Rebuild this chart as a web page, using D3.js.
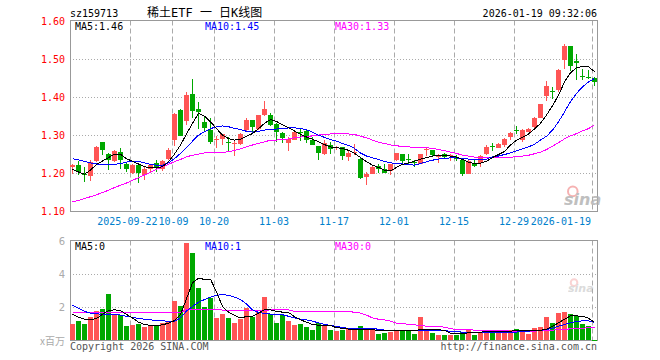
<!DOCTYPE html>
<html>
<head>
<meta charset="utf-8">
<script src="https://cdn.jsdelivr.net/npm/d3@7"></script>
<style>
  body { margin: 0; background: #fff; }
  svg { display: block; }
  text { font-family: 'DejaVu Sans Mono', 'Noto Sans CJK SC', monospace; font-size: 10px; }
</style>
</head>
<body>
<div id="chart"></div>
<script>
const dates = [
  '2025-09-08','2025-09-09','2025-09-10','2025-09-11','2025-09-12','2025-09-15','2025-09-16','2025-09-17','2025-09-18','2025-09-19',
  '2025-09-22','2025-09-23','2025-09-24','2025-09-25','2025-09-26','2025-09-29','2025-09-30','2025-10-09','2025-10-10','2025-10-13',
  '2025-10-14','2025-10-15','2025-10-16','2025-10-17','2025-10-20','2025-10-21','2025-10-22','2025-10-23','2025-10-24','2025-10-27',
  '2025-10-28','2025-10-29','2025-10-30','2025-10-31','2025-11-03','2025-11-04','2025-11-05','2025-11-06','2025-11-07','2025-11-10',
  '2025-11-11','2025-11-12','2025-11-13','2025-11-14','2025-11-17','2025-11-18','2025-11-19','2025-11-20','2025-11-21','2025-11-24',
  '2025-11-25','2025-11-26','2025-11-27','2025-11-28','2025-12-01','2025-12-02','2025-12-03','2025-12-04','2025-12-05','2025-12-08',
  '2025-12-09','2025-12-10','2025-12-11','2025-12-12','2025-12-15','2025-12-16','2025-12-17','2025-12-18','2025-12-19','2025-12-22',
  '2025-12-23','2025-12-24','2025-12-25','2025-12-26','2025-12-29','2025-12-30','2025-12-31','2026-01-05','2026-01-06','2026-01-07',
  '2026-01-08','2026-01-09','2026-01-12','2026-01-13','2026-01-14','2026-01-15','2026-01-16','2026-01-19'
];

const open = [
  1.218,1.222,1.199,1.194,1.233,1.282,1.251,1.233,1.256,1.226,
  1.202,1.222,1.196,1.211,1.228,1.211,1.237,1.288,1.367,1.339,
  1.409,1.369,1.335,1.314,1.289,1.291,1.284,1.277,1.277,1.314,
  1.342,1.316,1.353,1.353,1.330,1.307,1.279,1.288,1.308,1.312,
  1.289,1.272,1.251,1.275,1.268,1.270,1.244,1.256,1.237,1.190,
  1.200,1.219,1.211,1.207,1.235,1.251,1.237,1.229,1.226,1.261,
  1.261,1.245,1.251,1.247,1.242,1.235,1.200,1.228,1.228,1.251,
  1.273,1.268,1.274,1.295,1.315,1.288,1.310,1.323,1.347,1.404,
  1.416,1.419,1.498,1.536,1.496,1.457,1.455,1.451
];
const high = [
  1.224,1.232,1.217,1.235,1.272,1.282,1.253,1.263,1.267,1.231,
  1.226,1.226,1.217,1.226,1.235,1.235,1.268,1.358,1.370,1.414,
  1.450,1.389,1.351,1.347,1.300,1.303,1.295,1.288,1.306,1.347,
  1.342,1.353,1.392,1.359,1.332,1.309,1.296,1.314,1.318,1.314,
  1.296,1.272,1.288,1.283,1.272,1.270,1.260,1.278,1.240,1.204,
  1.222,1.225,1.226,1.226,1.254,1.251,1.251,1.235,1.251,1.270,
  1.261,1.251,1.254,1.252,1.248,1.237,1.237,1.235,1.248,1.274,
  1.281,1.279,1.294,1.310,1.325,1.318,1.321,1.349,1.384,1.443,
  1.428,1.474,1.540,1.536,1.514,1.474,1.472,1.453
];
const low = [
  1.198,1.196,1.178,1.181,1.231,1.248,1.209,1.231,1.213,1.204,
  1.198,1.175,1.182,1.204,1.204,1.207,1.235,1.273,1.298,1.327,
  1.347,1.318,1.311,1.277,1.266,1.275,1.260,1.246,1.275,1.310,
  1.310,1.314,1.351,1.325,1.282,1.279,1.260,1.288,1.286,1.279,
  1.275,1.235,1.249,1.252,1.263,1.235,1.233,1.250,1.186,1.170,
  1.198,1.202,1.202,1.196,1.233,1.225,1.226,1.216,1.225,1.246,
  1.246,1.228,1.239,1.233,1.234,1.193,1.200,1.217,1.217,1.248,
  1.260,1.268,1.270,1.288,1.304,1.283,1.309,1.321,1.345,1.392,
  1.395,1.415,1.474,1.470,1.446,1.446,1.448,1.431
];
const close = [
  1.222,1.205,1.197,1.231,1.269,1.261,1.235,1.260,1.235,1.212,
  1.222,1.202,1.211,1.222,1.218,1.232,1.261,1.356,1.298,1.406,
  1.365,1.362,1.319,1.283,1.290,1.303,1.282,1.279,1.305,1.340,
  1.323,1.353,1.369,1.327,1.310,1.294,1.292,1.310,1.307,1.289,
  1.275,1.254,1.279,1.265,1.269,1.246,1.254,1.257,1.188,1.200,
  1.216,1.211,1.202,1.225,1.253,1.233,1.236,1.228,1.251,1.264,
  1.248,1.246,1.244,1.248,1.241,1.200,1.233,1.219,1.246,1.270,
  1.272,1.277,1.290,1.307,1.314,1.314,1.318,1.346,1.382,1.430,
  1.415,1.472,1.536,1.482,1.492,1.456,1.453,1.440
];

// price moving averages as drawn
const ma5 = [
  1.211,1.204,1.198,1.209,1.224,1.233,1.242,1.251,1.251,1.239,
  1.232,1.225,1.218,1.215,1.215,1.218,1.231,1.251,1.275,1.304,
  1.332,1.358,1.351,1.336,1.318,1.301,1.292,1.288,1.290,1.298,
  1.305,1.318,1.332,1.342,1.337,1.328,1.320,1.312,1.303,1.296,
  1.290,1.284,1.276,1.270,1.268,1.266,1.261,1.253,1.242,1.231,
  1.222,1.216,1.209,1.207,1.216,1.224,1.228,1.232,1.238,1.242,
  1.246,1.247,1.247,1.246,1.243,1.237,1.230,1.226,1.227,1.232,
  1.242,1.250,1.258,1.275,1.288,1.295,1.304,1.317,1.332,1.354,
  1.378,1.406,1.441,1.465,1.478,1.482,1.481,1.468
];
const ma10 = [
  1.239,1.236,1.232,1.228,1.225,1.224,1.224,1.224,1.226,1.230,
  1.232,1.232,1.228,1.224,1.222,1.222,1.228,1.239,1.253,1.268,
  1.285,1.301,1.310,1.318,1.323,1.325,1.323,1.319,1.316,1.311,
  1.309,1.311,1.314,1.317,1.317,1.318,1.320,1.320,1.319,1.315,
  1.309,1.301,1.295,1.289,1.285,1.279,1.274,1.266,1.254,1.246,
  1.241,1.237,1.232,1.228,1.226,1.225,1.224,1.222,1.226,1.231,
  1.235,1.238,1.240,1.241,1.241,1.239,1.238,1.236,1.236,1.238,
  1.244,1.246,1.250,1.254,1.260,1.265,1.270,1.277,1.288,1.298,
  1.314,1.336,1.362,1.389,1.411,1.428,1.441,1.450
];
const ma30 = [
  1.125,1.129,1.134,1.139,1.144,1.150,1.156,1.163,1.169,1.175,
  1.182,1.189,1.196,1.203,1.211,1.218,1.224,1.231,1.237,1.244,
  1.248,1.251,1.254,1.255,1.255,1.256,1.257,1.261,1.265,1.270,
  1.275,1.279,1.283,1.288,1.288,1.289,1.291,1.294,1.296,1.297,
  1.299,1.301,1.303,1.304,1.304,1.304,1.304,1.303,1.298,1.294,
  1.288,1.282,1.279,1.275,1.273,1.271,1.270,1.269,1.268,1.268,
  1.266,1.263,1.260,1.256,1.253,1.248,1.246,1.243,1.241,1.241,
  1.241,1.241,1.242,1.243,1.244,1.246,1.248,1.252,1.256,1.263,
  1.272,1.281,1.291,1.299,1.305,1.312,1.318,1.328
];

// volume, millions of shares
const volume = [
  0.97,1.21,0.97,1.45,1.78,1.88,2.79,1.58,1.54,0.85,
  0.91,1.01,0.79,0.87,0.87,1.09,1.21,2.42,2.12,5.90,
  5.33,3.17,2.02,2.55,1.39,1.58,1.37,1.09,1.31,1.96,
  1.41,1.74,2.61,1.58,1.09,1.52,1.17,0.91,1.01,0.81,
  0.61,1.09,0.91,0.61,0.57,0.61,0.67,0.67,0.85,0.67,
  0.67,0.40,0.48,0.51,0.55,0.55,0.55,0.40,1.45,0.57,
  0.46,0.34,0.34,0.34,0.36,0.51,0.65,0.34,0.51,0.51,
  0.48,0.48,0.48,0.65,0.71,0.55,0.42,0.73,0.79,1.45,
  1.09,1.64,1.70,1.58,1.49,1.01,0.85,0.06
];
const volMa5 = [
  1.58,1.41,1.29,1.25,1.33,1.58,1.82,1.86,1.82,1.58,
  1.37,1.11,0.97,0.91,0.91,0.95,1.05,1.21,1.58,2.53,
  3.49,3.78,3.70,3.72,2.93,2.06,1.72,1.52,1.37,1.45,
  1.47,1.66,1.86,1.86,1.76,1.72,1.70,1.45,1.25,1.11,
  0.97,0.93,0.91,0.91,0.77,0.75,0.69,0.67,0.67,0.67,
  0.65,0.61,0.59,0.59,0.59,0.61,0.59,0.61,0.65,0.65,
  0.65,0.65,0.61,0.44,0.40,0.40,0.48,0.51,0.51,0.53,
  0.53,0.53,0.55,0.57,0.59,0.61,0.61,0.61,0.61,0.69,
  0.85,1.07,1.29,1.49,1.49,1.47,1.35,1.09
];
const volMa10 = [
  2.14,1.96,1.76,1.66,1.62,1.58,1.58,1.58,1.54,1.47,
  1.41,1.33,1.29,1.25,1.21,1.19,1.17,1.17,1.37,1.78,
  2.06,2.32,2.48,2.63,2.75,2.77,2.75,2.63,2.48,2.22,
  1.86,1.70,1.64,1.60,1.58,1.56,1.47,1.37,1.29,1.25,
  1.17,1.07,0.97,0.91,0.85,0.79,0.73,0.71,0.71,0.71,
  0.71,0.69,0.63,0.61,0.61,0.61,0.61,0.61,0.61,0.61,
  0.61,0.61,0.61,0.55,0.53,0.51,0.46,0.46,0.46,0.46,
  0.46,0.46,0.46,0.48,0.51,0.55,0.57,0.59,0.61,0.67,
  0.75,0.87,0.97,1.07,1.15,1.19,1.19,1.09
];
const volMa30 = [
  1.68,1.68,1.68,1.68,1.70,1.70,1.70,1.70,1.70,1.70,
  1.72,1.72,1.72,1.72,1.72,1.72,1.68,1.68,1.68,1.90,
  1.90,1.90,1.90,1.90,1.90,1.84,1.84,1.84,1.84,1.80,
  1.80,1.80,1.80,1.86,1.86,1.86,1.86,1.76,1.76,1.76,
  1.76,1.76,1.76,1.76,1.76,1.76,1.74,1.72,1.66,1.54,
  1.37,1.29,1.25,1.17,1.05,1.01,0.99,0.95,0.91,0.87,
  0.85,0.85,0.81,0.71,0.67,0.67,0.65,0.63,0.61,0.61,
  0.61,0.61,0.59,0.57,0.57,0.57,0.57,0.57,0.59,0.61,
  0.63,0.65,0.67,0.71,0.73,0.75,0.77,0.77
];

const tickDates = ['2025-09-22','2025-10-09','2025-10-20','2025-11-03','2025-11-17','2025-12-01','2025-12-15','2025-12-29','2026-01-19'];
const tickLabels = ['2025-09-22','10-09','10-20','11-03','11-17','12-01','12-15','12-29','2026-01-19'];
const priceTicks = [1.10, 1.20, 1.30, 1.40, 1.50, 1.60];
const volTicks = [2, 4, 6];

const
  W = 660,
  H = 360,
  left = 70,
  right = 597,
  priceTop = 20.5,
  priceBottom = 211.5,
  volTop = 240.5,
  volBottom = 340.5,
  upColor = '#ff5555',
  downColor = '#00a800',
  gridColor = '#aaaaaa',
  frameColor = '#999999';

let
  svg,
  x,
  y,
  yv,
  idx = d3.range(dates.length),
  cx = function (i) { return x(dates[i]) + 2.5; },
  isUp = function (i) { return close[i] >= open[i]; };

svg = d3.select('#chart')
  .append('svg')
  .attr('width', W)
  .attr('height', H);

x = d3.scaleBand()
  .domain(dates)
  .range([left, right])
  .paddingInner(1 / 6)
  .paddingOuter(0);

y = d3.scaleLinear()
  .domain([1.10, 1.60])
  .range([priceBottom, 21.5]);

yv = d3.scaleLinear()
  .domain([0, 6])
  .range([volBottom, 241.5]);

// header
svg.append('text').attr('x', left).attr('y', 16.5).text('sz159713');
svg.append('text').attr('x', 147).attr('y', 16.5).style('font-size', '12px').text('稀土ETF 一 日K线图');
svg.append('text').attr('x', right).attr('y', 16.5).attr('text-anchor', 'end').text('2026-01-19 09:32:06');

// grids for both panels
function drawGrid(top, bottom, ys) {
  svg.append('g')
    .selectAll('line')
    .data(ys)
    .enter().append('line')
    .attr('x1', left).attr('x2', right)
    .attr('y1', function (d) { return Math.floor(d) + 0.5; })
    .attr('y2', function (d) { return Math.floor(d) + 0.5; })
    .attr('stroke', gridColor)
    .attr('stroke-dasharray', '1,2');

  svg.append('g')
    .selectAll('line')
    .data(tickDates)
    .enter().append('line')
    .attr('x1', function (d) { return x(d) + 0.5; })
    .attr('x2', function (d) { return x(d) + 0.5; })
    .attr('y1', top).attr('y2', bottom)
    .attr('stroke', gridColor)
    .attr('stroke-dasharray', '5,3');

  svg.append('rect')
    .attr('x', left + 0.5).attr('y', top)
    .attr('width', right - left).attr('height', bottom - top)
    .attr('fill', 'none')
    .attr('stroke', frameColor);
}

drawGrid(priceTop, priceBottom, [1.20, 1.30, 1.40, 1.50].map(y));
drawGrid(volTop, volBottom, [2, 4].map(yv));

// sina watermarks
function drawMark(px, py, size, op) {
  let g = svg.append('g').attr('opacity', op);
  g.append('circle').attr('cx', px + size * 0.55).attr('cy', py - size * 0.85)
    .attr('r', size * 0.3).attr('fill', 'none').attr('stroke', '#f4a0a0').attr('stroke-width', 2);
  g.append('text').attr('x', px).attr('y', py)
    .style('font-family', 'DejaVu Sans').style('font-size', size + 'px')
    .style('font-style', 'italic').style('font-weight', 'bold')
    .attr('fill', '#b0b0b0').text('sina');
}
drawMark(564, 205, 16, 0.8);
drawMark(568, 292, 11, 0.45);

// price labels
svg.append('g')
  .selectAll('text')
  .data(priceTicks)
  .enter().append('text')
  .attr('x', 65)
  .attr('y', function (d) { return y(d); })
  .attr('dy', '0.35em')
  .attr('text-anchor', 'end')
  .attr('fill', '#ff0000')
  .text(function (d) { return d.toFixed(2); });

// date labels: first and last are pushed to keep clear of neighbours / frame
svg.append('g')
  .selectAll('text')
  .data(tickDates)
  .enter().append('text')
  .attr('x', function (d, i) {
    if (i === 0) { return x(d) + 27.5; }
    if (i === tickDates.length - 1) { return x(d) - 1; }
    return x(d) + (i === 1 ? 1.5 : 0);
  })
  .attr('y', 225)
  .attr('text-anchor', function (d, i) {
    if (i === 0 || i === tickDates.length - 1) { return 'end'; }
    return 'middle';
  })
  .attr('fill', '#0080cc')
  .text(function (d, i) { return tickLabels[i]; });

// candles
let candle = svg.append('g')
  .selectAll('g')
  .data(idx)
  .enter().append('g')
  .attr('fill', function (i) { return isUp(i) ? upColor : downColor; })
  .attr('stroke', function (i) { return isUp(i) ? upColor : downColor; });

candle.append('line')
  .attr('x1', cx).attr('x2', cx)
  .attr('y1', function (i) { return Math.round(y(high[i])); })
  .attr('y2', function (i) { return Math.round(y(low[i])); });

candle.append('rect')
  .attr('stroke', 'none')
  .attr('x', function (i) { return x(dates[i]); })
  .attr('width', x.bandwidth())
  .attr('y', function (i) { return Math.round(y(Math.max(open[i], close[i]))); })
  .attr('height', function (i) {
    return Math.max(1, Math.round(y(Math.min(open[i], close[i]))) - Math.round(y(Math.max(open[i], close[i]))));
  });

// volume bars
svg.append('g')
  .selectAll('rect')
  .data(idx)
  .enter().append('rect')
  .attr('x', function (i) { return x(dates[i]); })
  .attr('width', x.bandwidth())
  .attr('y', function (i) { return Math.round(yv(volume[i])); })
  .attr('height', function (i) { return Math.max(1, 340 - Math.round(yv(volume[i]))); })
  .attr('fill', function (i) { return isUp(i) ? upColor : downColor; });

function drawLine(values, scale, color) {
  let line = d3.line()
    .x(cx)
    .y(function (i) { return scale(values[i]); });

  svg.append('path')
    .datum(idx)
    .attr('fill', 'none')
    .attr('stroke', color)
    .attr('stroke-width', 1)
    .attr('shape-rendering', 'crispEdges')
    .attr('d', line);
}

drawLine(ma30, y, '#ff00ff');
drawLine(ma10, y, '#0000ff');
drawLine(ma5, y, '#000000');
drawLine(volMa30, yv, '#ff00ff');
drawLine(volMa10, yv, '#0000ff');
drawLine(volMa5, yv, '#000000');

// legends
function legend(py, items) {
  svg.append('g')
    .selectAll('text')
    .data(items)
    .enter().append('text')
    .attr('x', function (d) { return d[0]; })
    .attr('y', py)
    .attr('fill', function (d) { return d[2]; })
    .text(function (d) { return d[1]; });
}
legend(29.5, [[75, 'MA5:1.46', '#000'], [205, 'MA10:1.45', '#0000ff'], [335, 'MA30:1.33', '#ff00ff']]);
legend(249.5, [[75, 'MA5:0', '#000'], [205, 'MA10:1', '#0000ff'], [335, 'MA30:0', '#ff00ff']]);

// volume labels
svg.append('g')
  .selectAll('text')
  .data(volTicks)
  .enter().append('text')
  .attr('x', 65)
  .attr('y', function (d) { return yv(d); })
  .attr('dy', '0.35em')
  .attr('text-anchor', 'end')
  .attr('fill', '#aaaaaa')
  .style('font-family', 'DejaVu Sans')
  .text(String);

svg.append('text').attr('x', 65).attr('y', 345).attr('text-anchor', 'end')
  .attr('fill', '#aaaaaa').style('font-family', 'Noto Sans CJK SC').style('font-size', '10px').text('x百万');

// footer
svg.append('text').attr('x', left).attr('y', 350).attr('fill', '#555').text('Copyright 2026 SINA.COM');
svg.append('text').attr('x', right).attr('y', 350).attr('text-anchor', 'end').attr('fill', '#555').text('http://finance.sina.com.cn');
</script>
</body>
</html>
